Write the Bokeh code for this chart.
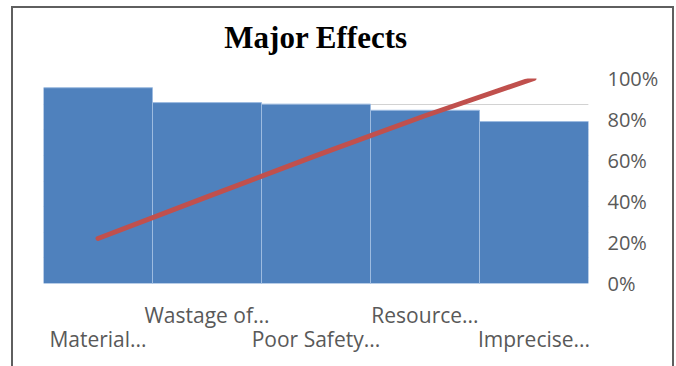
from bokeh.plotting import figure
from bokeh.models import Range1d, LinearAxis, FixedTicker, NumeralTickFormatter, Grid, Title
from bokeh.embed import file_html
from bokeh.resources import INLINE

# ---- data ----
categories = ["Material...", "Wastage of...", "Poor Safety...", "Resource...", "Imprecise..."]
values = [38.2, 35.3, 35.0, 33.8, 31.6]
pct_ticks = [0, 0.2, 0.4, 0.6, 0.8, 1.0]
grid_ticks = [0, 5, 10, 15, 20, 25, 30, 35, 40]
title_text = "Major Effects"

total = sum(values)
cum = []
run = 0.0
for v in values:
    run += v
    cum.append(run / total)
xs = [i + 0.5 for i in range(len(categories))]

p = figure(width=663, height=366, output_backend="svg", toolbar_location=None,
           x_range=Range1d(0, len(categories)), y_range=Range1d(0, 40),
           y_axis_location=None, x_axis_location="below",
           min_border_left=30, min_border_right=88, min_border_top=70, min_border_bottom=91)
p.styles = {"margin-left": "11px", "margin-top": "6px", "border": "2px solid #5f5f5f"}
p.outline_line_color = None
p.background_fill_color = "white"
p.border_fill_color = "white"
p.xgrid.visible = False

g = Grid(dimension=1, ticker=FixedTicker(ticks=grid_ticks), grid_line_color="#d2d2d2", grid_line_width=1)
p.add_layout(g)

p.extra_y_ranges = {"pct": Range1d(0, 1)}
ax = LinearAxis(y_range_name="pct", ticker=FixedTicker(ticks=pct_ticks),
                formatter=NumeralTickFormatter(format="0%"))
ax.axis_line_color = None
ax.major_tick_line_color = None
ax.minor_tick_line_color = None
ax.major_label_standoff = 13
ax.major_label_text_font = "Open Sans"
ax.major_label_text_font_size = "20px"
ax.major_label_text_color = "#595959"
p.add_layout(ax, "right")

xa = p.xaxis[0]
xa.ticker = FixedTicker(ticks=xs)
xa.major_label_overrides = {x: (c if i % 2 == 1 else "\n" + c) for i, (x, c) in enumerate(zip(xs, categories))}
xa.axis_line_color = None
xa.major_tick_line_color = None
xa.minor_tick_line_color = None
xa.major_label_standoff = 11
xa.major_label_text_font = "Open Sans"
xa.major_label_text_font_size = "21px"
xa.major_label_text_line_height = 0.88
xa.major_label_text_color = "#595959"

p.vbar(x=xs, top=values, width=1, bottom=0, fill_color="#4F81BD", line_color="#9dbbe0", line_width=1)
p.line(x=xs, y=cum, y_range_name="pct", line_color="#C0504D", line_width=5, line_cap="round")

# spacer between title and plot area, then the title itself
spacer = Title(text=" ", text_font_size="1px", standoff=21)
p.add_layout(spacer, "above")
main_title = Title(text=title_text, align="center", standoff=0,
                   text_font="Liberation Serif", text_font_style="bold",
                   text_font_size="31px", text_color="black")
p.add_layout(main_title, "above")

open("out.html", "w").write(file_html(p, INLINE))
